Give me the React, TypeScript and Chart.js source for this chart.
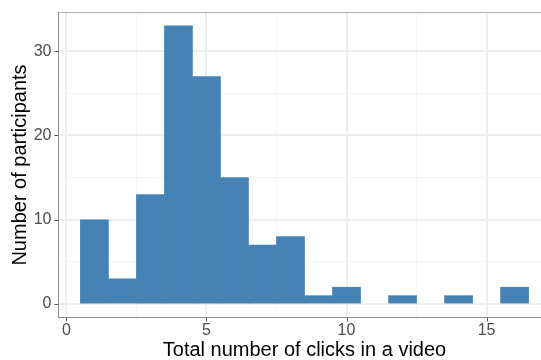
import React, { useEffect, useRef } from "react";
import { Chart, registerables } from "chart.js";

Chart.register(...registerables);

// Histogram bins: total clicks per video (bin width 1) and participant counts
const clicks = [1, 2, 3, 4, 5, 6, 7, 8, 9, 10, 11, 12, 13, 14, 15, 16];
const participants = [10, 3, 13, 33, 27, 15, 7, 8, 1, 2, 0, 1, 0, 1, 0, 2];

const xTicks = [0, 5, 10, 15];
const yTicks = [0, 10, 20, 30];

const FONT = "'Liberation Sans', Arial, Helvetica, sans-serif";
const BAR = "#4682B4";
const GRID_MAJOR = "#EEEEEE";
const GRID_MINOR = "#F5F5F5";

// Panel frame and outward tick marks, drawn over the bars like ggplot's panel border
const framePlugin = {
  id: "frame",
  afterDatasetsDraw(chart: any) {
    const { ctx, chartArea: a, scales } = chart;
    ctx.save();
    ctx.lineWidth = 1;
    // top edge
    ctx.strokeStyle = "#B3B3B3";
    ctx.beginPath();
    ctx.moveTo(a.left, a.top + 0.5);
    ctx.lineTo(a.right, a.top + 0.5);
    ctx.stroke();
    // left and bottom axis lines
    ctx.strokeStyle = "#8A8A8A";
    ctx.beginPath();
    ctx.moveTo(a.left + 0.5, a.top);
    ctx.lineTo(a.left + 0.5, a.bottom);
    ctx.moveTo(a.left, a.bottom - 0.5);
    ctx.lineTo(a.right, a.bottom - 0.5);
    ctx.stroke();
    // tick marks
    ctx.strokeStyle = "#555555";
    ctx.beginPath();
    for (const v of xTicks) {
      const x = Math.round(scales.x.getPixelForValue(v)) + 0.5;
      ctx.moveTo(x, a.bottom);
      ctx.lineTo(x, a.bottom + 3.5);
    }
    for (const v of yTicks) {
      const y = Math.round(scales.y.getPixelForValue(v)) + 0.5;
      ctx.moveTo(a.left, y);
      ctx.lineTo(a.left - 3.5, y);
    }
    ctx.stroke();
    ctx.restore();
  },
};

export default function App() {
  const ref = useRef<HTMLCanvasElement>(null);

  useEffect(() => {
    if (!ref.current) return;
    const chart = new Chart(ref.current, {
      type: "bar",
      data: {
        datasets: [
          {
            // empty bins are left out so nothing is drawn for them
            data: clicks.map((c, i) => ({ x: c, y: participants[i] > 0 ? participants[i] : null })),
            backgroundColor: BAR,
            borderWidth: 0,
            barPercentage: 1,
            categoryPercentage: 1,
          },
        ],
      },
      options: {
        responsive: false,
        animation: false,
        devicePixelRatio: 1,
        layout: { padding: { top: 12, right: 7, left: 0, bottom: 0 } },
        plugins: {
          legend: { display: false },
          tooltip: { enabled: false },
        },
        scales: {
          x: {
            type: "linear",
            min: -0.3,
            max: 17.3,
            offset: false,
            afterFit(scale: any) {
              scale.height = 42;
              scale.paddingLeft = 0;
              scale.paddingRight = 0;
            },
            ticks: {
              stepSize: 2.5,
              includeBounds: false,
              autoSkip: false,
              maxRotation: 0,
              padding: 3,
              color: "#4D4D4D",
              font: { family: FONT, size: 16, lineHeight: 1.2 },
              callback: (v: any) => (Number(v) % 5 === 0 ? String(v) : ""),
            },
            grid: {
              offset: false,
              drawTicks: false,
              color: (c: any) => (c.tick && c.tick.value % 5 === 0 ? GRID_MAJOR : GRID_MINOR),
              lineWidth: (c: any) => (c.tick && c.tick.value % 5 === 0 ? 2 : 1),
            },
            border: { display: false },
            title: {
              display: true,
              text: "Total number of clicks in a video",
              color: "#000000",
              font: { family: FONT, size: 20, lineHeight: 1 },
              padding: { top: 0, bottom: 0 },
            },
          },
          y: {
            type: "linear",
            min: -1.65,
            max: 34.65,
            afterFit(scale: any) {
              scale.width = 58;
              scale.paddingTop = 0;
              scale.paddingBottom = 0;
            },
            ticks: {
              stepSize: 5,
              includeBounds: false,
              padding: 6.5,
              color: "#4D4D4D",
              font: { family: FONT, size: 16, lineHeight: 1.2 },
              callback: (v: any) => (Number(v) % 10 === 0 ? String(v) : ""),
            },
            grid: {
              drawTicks: false,
              color: (c: any) => (c.tick && c.tick.value % 10 === 0 ? GRID_MAJOR : GRID_MINOR),
              lineWidth: (c: any) => (c.tick && c.tick.value % 10 === 0 ? 2 : 1),
            },
            border: { display: false },
            title: {
              display: true,
              text: "Number of participants",
              color: "#000000",
              font: { family: FONT, size: 20, lineHeight: 1 },
              padding: { top: 10, bottom: 0 },
            },
          },
        },
      },
      plugins: [framePlugin],
    } as any);
    return () => chart.destroy();
  }, []);

  return (
    <div
      style={{
        position: "fixed",
        left: 0,
        top: 0,
        width: 541,
        height: 360,
        overflow: "hidden",
        background: "#FFFFFF",
      }}
    >
      <canvas ref={ref} width={558} height={360} style={{ display: "block" }} />
    </div>
  );
}
